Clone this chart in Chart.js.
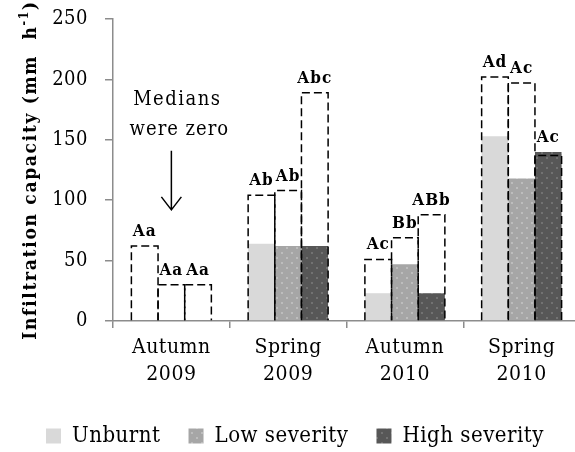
<!DOCTYPE html>
<html>
<head>
<meta charset="utf-8">
<script src="https://cdn.jsdelivr.net/npm/chart.js@4.4.0/dist/chart.umd.min.js"></script>
<style>
  html, body { margin: 0; padding: 0; overflow: hidden; background: #fff; }
</style>
</head>
<body>
<canvas id="chart" width="580" height="452"></canvas>
<script>
// ── DATA ───────────────────────────────────────────────────────
const categories = [['Autumn', '2009'], ['Spring', '2009'], ['Autumn', '2010'], ['Spring', '2010']];
const seriesNames = ['Unburnt', 'Low severity', 'High severity'];

// medians (filled bars)
const medianUnburnt = [0, 64, 23, 153];
const medianLow     = [0, 62, 47, 118];
const medianHigh    = [0, 62, 23, 140];

// upper values (dashed outline bars)
const upperUnburnt = [62, 104, 51, 202];
const upperLow     = [30, 108, 69, 197];
const upperHigh    = [30, 189, 88, 137];

// significance letters over each bar
const lettersUnburnt = ['Aa', 'Ab', 'Ac', 'Ad'];
const lettersLow     = ['Aa', 'Ab', 'Bb', 'Ac'];
const lettersHigh    = ['Aa', 'Abc', 'ABb', 'Ac'];

const yTitle = 'Infiltration capacity (mm  h';
const yTitleSup = '-1';
const noteLines = ['Medians', 'were zero'];

// ── STYLE ──────────────────────────────────────────────────────
const SERIF = "'DejaVu Serif Condensed', 'Liberation Serif', serif";
const AXIS_GREY = '#8c8c8c';

function dotPattern(base, dot) {
  const c = document.createElement('canvas');
  c.width = 10; c.height = 10;
  const g = c.getContext('2d');
  g.fillStyle = base; g.fillRect(0, 0, 10, 10);
  g.fillStyle = dot;
  g.fillRect(1, 2, 2, 2);
  g.fillRect(6, 7, 2, 2);
  return g.createPattern(c, 'repeat');
}

const fillUnburnt = '#d9d9d9';
const fillLow = dotPattern('#a6a6a6', '#bdbdbd');
const fillHigh = dotPattern('#575757', '#727272');

// ── PLUGINS ────────────────────────────────────────────────────
const spacingPlugin = {
  id: 'spacing',
  beforeLayout(chart) { chart.ctx.letterSpacing = '0.5px'; },
  beforeDraw(chart) { chart.ctx.letterSpacing = '0.5px'; }
};

const annotatePlugin = {
  id: 'annotate',
  afterDatasetsDraw(chart) {
    const ctx = chart.ctx;
    const letters = [lettersUnburnt, lettersLow, lettersHigh];
    ctx.save();
    // dashed outline bars
    ctx.strokeStyle = '#000';
    ctx.lineWidth = 1.5;
    ctx.setLineDash([8, 4]);
    for (let s = 0; s < 3; s++) {
      const meta = chart.getDatasetMeta(s + 3);
      meta.data.forEach(el => {
        const l = el.x - el.width / 2, r = el.x + el.width / 2;
        ctx.beginPath();
        ctx.moveTo(l, el.base);
        ctx.lineTo(l, el.y);
        ctx.lineTo(r, el.y);
        ctx.lineTo(r, el.base);
        ctx.stroke();
      });
    }
    ctx.setLineDash([]);

    // letters
    ctx.fillStyle = '#000';
    ctx.font = 'bold 17px ' + SERIF;
    ctx.letterSpacing = '1px';
    ctx.textAlign = 'center';
    ctx.textBaseline = 'alphabetic';
    for (let s = 0; s < 3; s++) {
      const up = chart.getDatasetMeta(s + 3).data;
      const med = chart.getDatasetMeta(s).data;
      up.forEach((el, i) => {
        const top = Math.min(el.y, med[i].y);
        ctx.fillText(letters[s][i], el.x, top - 10);
      });
    }

    // "Medians were zero" note with arrow
    const xs = chart.scales.x, ys = chart.scales.y;
    const cx = xs.getPixelForValue(0);
    ctx.font = '20px ' + SERIF;
    ctx.letterSpacing = '1.5px';
    ctx.fillText(noteLines[0], cx + 6, ys.getPixelForValue(179));
    ctx.letterSpacing = '1px';
    ctx.fillText(noteLines[1], cx + 8, ys.getPixelForValue(154));
    const a0 = ys.getPixelForValue(141), a1 = ys.getPixelForValue(92);
    ctx.lineWidth = 1.5;
    ctx.beginPath();
    ctx.moveTo(cx, a0); ctx.lineTo(cx, a1);
    ctx.moveTo(cx - 10, a1 - 13); ctx.lineTo(cx, a1); ctx.lineTo(cx + 10, a1 - 13);
    ctx.stroke();
    ctx.restore();
  },
  afterDraw(chart) {
    // y axis title with superscript
    const ctx = chart.ctx;
    const area = chart.chartArea;
    const cy = (area.top + area.bottom) / 2;
    ctx.save();
    ctx.fillStyle = '#000';
    ctx.letterSpacing = '1.7px';
    ctx.textBaseline = 'alphabetic';
    ctx.textAlign = 'left';
    const mainFont = 'bold 19px ' + SERIF;
    const supFont = 'bold 12px ' + SERIF;
    ctx.font = mainFont;
    const w1 = ctx.measureText(yTitle).width;
    const w3 = ctx.measureText(')').width;
    ctx.font = supFont;
    const w2 = ctx.measureText(yTitleSup).width;
    const total = w1 + w2 + w3;
    ctx.translate(36, cy);
    ctx.rotate(-Math.PI / 2);
    let x = -total / 2;
    ctx.font = mainFont;
    ctx.fillText(yTitle, x, 0);
    x += w1;
    ctx.font = supFont;
    ctx.fillText(yTitleSup, x, -8);
    x += w2;
    ctx.font = mainFont;
    ctx.fillText(')', x, 0);
    ctx.restore();
  }
};

// ── CHART ──────────────────────────────────────────────────────
const medianSets = [medianUnburnt, medianLow, medianHigh];
const upperSets = [upperUnburnt, upperLow, upperHigh];
const fills = [fillUnburnt, fillLow, fillHigh];
const stacks = ['u', 'l', 'h'];

const datasets = [];
medianSets.forEach((d, i) => datasets.push({
  label: seriesNames[i], data: d, stack: stacks[i],
  backgroundColor: fills[i], borderWidth: 0
}));
upperSets.forEach((d, i) => datasets.push({
  label: seriesNames[i] + ' upper', data: d, stack: stacks[i],
  backgroundColor: 'rgba(0,0,0,0)', borderWidth: 0
}));

new Chart(document.getElementById('chart'), {
  type: 'bar',
  data: { labels: categories, datasets },
  options: {
    responsive: false,
    animation: false,
    devicePixelRatio: 1,
    categoryPercentage: 0.685,
    barPercentage: 1,
    layout: { padding: { left: 18, top: 19, right: 0, bottom: -5 } },
    scales: {
      x: {
        offset: true,
        grid: { drawOnChartArea: false, drawTicks: true, tickLength: 7, color: AXIS_GREY, lineWidth: 1.5, offset: true },
        border: { color: AXIS_GREY, width: 1.5 },
        ticks: { color: '#000', padding: 6, maxRotation: 0, autoSkip: false,
                 font: { family: SERIF, size: 21, lineHeight: 1.3 } },
        afterFit: s => { s.height = 76; }
      },
      y: {
        stacked: false,
        min: 0, max: 250,
        grid: { drawOnChartArea: false, drawTicks: true, tickLength: 8, color: AXIS_GREY, lineWidth: 1.5 },
        border: { color: AXIS_GREY, width: 1.5 },
        ticks: { stepSize: 50, color: '#000', padding: 17, font: { family: SERIF, size: 20 } },
        afterFit: s => { s.width = 95; s.paddingTop = 0; s.paddingBottom = 0; }
      }
    },
    plugins: {
      legend: {
        position: 'bottom',
        align: 'start',
        labels: {
          boxWidth: 15, boxHeight: 15, padding: 28, color: '#000',
          font: { family: SERIF, size: 22 },
          filter: item => item.datasetIndex < 3
        }
      },
      tooltip: { enabled: false }
    }
  },
  plugins: [spacingPlugin, annotatePlugin]
});
</script>
</body>
</html>
